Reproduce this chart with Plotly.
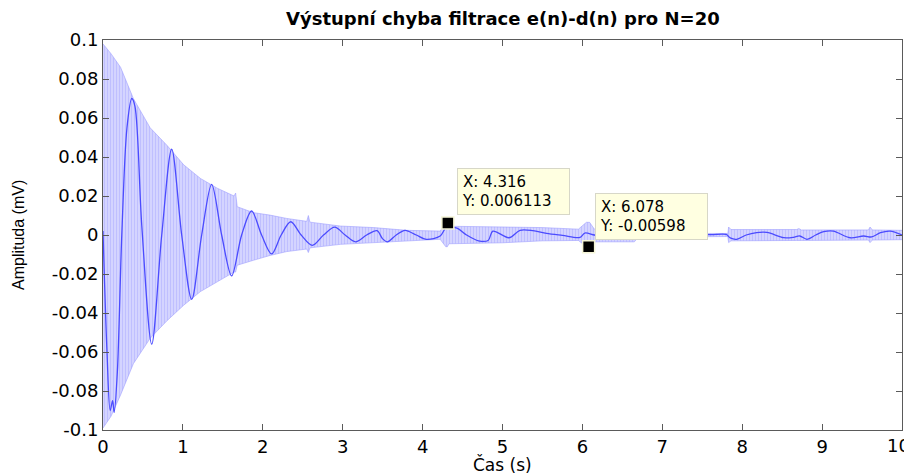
import plotly.graph_objects as go

# ---- data ----
# envelope of the fast oscillation (upper / lower), time in s, amplitude in mV
t_env = [0.00, 0.10, 0.22, 0.38, 0.59, 0.80, 1.01, 1.22, 1.43, 1.64, 1.66, 1.68,
         1.88, 2.09, 2.30, 2.55, 2.57, 2.59, 2.97, 3.39, 3.80, 4.22, 4.29, 4.31,
         4.33, 5.00, 5.50, 5.95, 6.05, 6.09, 6.15, 6.65, 6.70, 7.56, 7.82, 7.83,
         7.86, 8.68, 8.71, 8.74, 9.58, 9.60, 9.63, 10.00]
env_upper = [0.098, 0.093, 0.086, 0.070, 0.055, 0.046, 0.036, 0.029, 0.024, 0.020, 0.0215, 0.0145,
             0.0115, 0.0102, 0.0085, 0.0070, 0.0100, 0.0066, 0.0046, 0.0038, 0.0024, 0.0020, 0.0061, 0.0061,
             0.0045, 0.0042, 0.0038, 0.0030, 0.0065, 0.0065, 0.0030, 0.0020, 0.0010, 0.0008, 0.0008, 0.0041,
             0.0028, 0.0028, 0.0033, 0.0026, 0.0026, 0.0041, 0.0026, 0.0024]
env_lower = [-0.099, -0.093, -0.082, -0.066, -0.053, -0.044, -0.036, -0.029, -0.024, -0.019, -0.019, -0.0155,
             -0.013, -0.0105, -0.0085, -0.0072, -0.0090, -0.0066, -0.0048, -0.0040, -0.0030, -0.0022, -0.0060, -0.0060,
             -0.0045, -0.0040, -0.0030, -0.0028, -0.0060, -0.0060, -0.0035, -0.0035, -0.0010, -0.0008, -0.0008, -0.0039,
             -0.0030, -0.0028, -0.0027, -0.0028, -0.0026, -0.0039, -0.0026, -0.0024]

# slow component (darker line)
t_curve = [0.00, 0.05, 0.09, 0.12, 0.14, 0.18, 0.235, 0.30, 0.36, 0.40, 0.485, 0.61,
           0.735, 0.86, 0.985, 1.11, 1.235, 1.36, 1.485, 1.61, 1.735, 1.86, 1.985, 2.11,
           2.23, 2.35, 2.48, 2.62, 2.76, 2.90, 3.03, 3.16, 3.30, 3.43, 3.50, 3.56,
           3.67, 3.78, 3.92, 4.05, 4.22, 4.30, 4.43, 4.55, 4.70, 4.82, 4.88, 5.08,
           5.22, 5.38, 5.55, 5.75, 5.97, 6.03, 6.15, 6.40, 6.90, 7.30, 7.60, 7.80,
           7.85, 7.93, 8.05, 8.18, 8.31, 8.52, 8.64, 8.72, 8.81, 8.92, 9.02, 9.14,
           9.35, 9.52, 9.62, 9.73, 9.85, 10.00]
y_curve = [0.002, -0.060, -0.090, -0.085, -0.091, -0.070, 0.000, 0.055, 0.070, 0.066, 0.005, -0.056,
           0.000, 0.044, 0.000, -0.033, 0.000, 0.026, 0.000, -0.021, 0.000, 0.0123, 0.000, -0.0097,
           0.000, 0.0068, 0.000, -0.0053, 0.000, 0.0040, 0.000, -0.0035, 0.000, 0.0022, -0.0020, -0.0035,
           0.000, 0.0024, 0.000, -0.0022, -0.0005, 0.0040, 0.0035, 0.000, -0.0030, -0.0028, 0.0020, -0.0014,
           0.0024, 0.0022, 0.0008, -0.0002, -0.0012, 0.0010, 0.000, -0.0020, 0.000, 0.0008, 0.0002, 0.0003,
           -0.0015, -0.0022, 0.000, 0.0012, 0.0013, -0.0014, -0.0012, -0.0005, -0.0022, 0.000, 0.0017, 0.0020,
           -0.0014, -0.0005, -0.0010, 0.0012, 0.0020, 0.000]

# data tips
tip_x = [4.316, 6.078]
tip_y = [0.006113, -0.00598]
tip_text = ["X: 4.316<br>Y: 0.006113", "X: 6.078<br>Y: -0.00598"]

x_tickvals = [0, 1, 2, 3, 4, 5, 6, 7, 8, 9, 10]
x_ticktext = ["0", "1", "2", "3", "4", "5", "6", "7", "8", "9", "10"]
y_tickvals = [-0.1, -0.08, -0.06, -0.04, -0.02, 0, 0.02, 0.04, 0.06, 0.08, 0.1]
y_ticktext = ["-0.1", "-0.08", "-0.06", "-0.04", "-0.02", "0", "0.02", "0.04", "0.06", "0.08", "0.1"]

title_text = "Výstupní chyba filtrace e(n)-d(n) pro N=20"
x_label = "Čas (s)"
y_label = "Amplituda (mV)"

tick_font = dict(family="DejaVu Sans", size=18, color="black")

# ---- figure ----
fig = go.Figure()
fig.add_trace(go.Scatter(x=t_env, y=env_upper, mode="lines",
                         line=dict(width=0.6, color="rgba(150,150,255,0.9)"),
                         hoverinfo="skip", showlegend=False))
fig.add_trace(go.Scatter(x=t_env, y=env_lower, mode="lines", fill="tonexty",
                         line=dict(width=0.6, color="rgba(150,150,255,0.9)"),
                         fillcolor="rgb(220,220,255)",
                         fillpattern=dict(shape="|", size=3, solidity=0.55,
                                          fgcolor="rgb(160,160,255)", bgcolor="rgb(222,222,255)"),
                         hoverinfo="skip", showlegend=False))
fig.add_trace(go.Scatter(x=t_curve, y=y_curve, mode="lines",
                         line=dict(width=1.3, color="rgb(75,75,255)", shape="spline", smoothing=0.9),
                         showlegend=False))
fig.add_trace(go.Scatter(x=tip_x, y=tip_y, mode="markers",
                         marker=dict(symbol="square", size=12, color="black",
                                     line=dict(width=1.5, color="rgb(245,245,215)")),
                         showlegend=False))

shifts = [(9, 8), (6, 7)]
for tx, ty, tt, (sx, sy) in zip(tip_x, tip_y, tip_text, shifts):
    fig.add_annotation(x=tx, y=ty, xref="x", yref="y", text=tt, showarrow=False,
                       xanchor="left", yanchor="bottom", xshift=sx, yshift=sy,
                       align="left", width=103, height=37, borderpad=4,
                       bgcolor="rgb(255,255,225)", bordercolor="rgb(215,215,200)", borderwidth=1,
                       font=dict(family="DejaVu Sans", size=15, color="black"))

fig.add_annotation(text="<b>" + title_text + "</b>", xref="paper", yref="paper",
                   x=0.5, y=1.0564, xanchor="center", yanchor="middle", showarrow=False,
                   font=dict(family="DejaVu Sans", size=18, color="black"))
fig.add_annotation(text=x_label, xref="paper", yref="paper",
                   x=0.5, y=-0.0897, xanchor="center", yanchor="middle", showarrow=False,
                   font=dict(family="DejaVu Sans", size=17, color="black"))
fig.add_annotation(text=y_label, xref="paper", yref="paper", textangle=-90,
                   x=-0.1064, y=0.5, xanchor="center", yanchor="middle", showarrow=False,
                   font=dict(family="Liberation Sans", size=16, color="black"))
# last x tick label sits against the right edge of the window
fig.add_annotation(text=x_ticktext[-1], xref="x", yref="paper", x=x_tickvals[-1], y=0,
                   xanchor="right", yanchor="middle", xshift=9, yshift=-15, showarrow=False,
                   borderpad=0, font=tick_font)

axis_common = dict(showline=True, linecolor="rgb(90,90,90)", linewidth=1, mirror="ticks",
                   ticks="inside", ticklen=6, tickcolor="rgb(90,90,90)", showgrid=False,
                   zeroline=False, tickfont=tick_font)
fig.update_xaxes(range=[0, 10], tickvals=x_tickvals, ticktext=x_ticktext[:-1] + [""], **axis_common)
fig.update_yaxes(range=[-0.1, 0.1], tickvals=y_tickvals, ticktext=y_ticktext, **axis_common)

# the page body adds an 8 px offset, so the figure is 8 px smaller than the window
fig.update_layout(width=904, height=466, margin=dict(l=95, r=10, t=32, b=44, autoexpand=False),
                  plot_bgcolor="white", paper_bgcolor="white", showlegend=False)

fig.write_html("out.html")
